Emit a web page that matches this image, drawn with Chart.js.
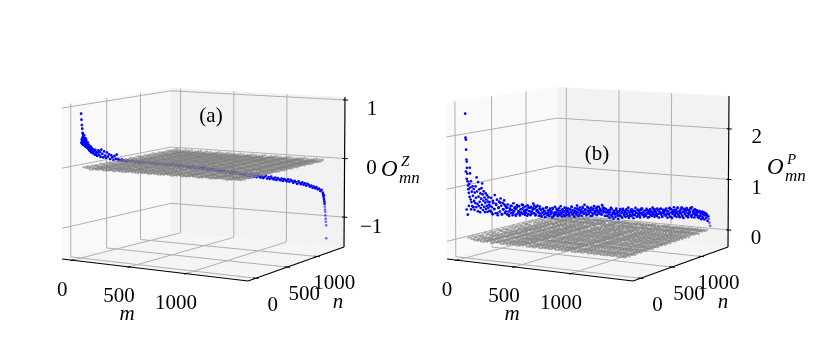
<!DOCTYPE html>
<html>
<head>
<meta charset="utf-8">
<script src="https://cdn.jsdelivr.net/npm/chart.js@4/dist/chart.umd.min.js"></script>
<style>
  html, body { margin: 0; padding: 0; background: #fff; }
  #wrap { position: relative; width: 830px; height: 363px; overflow: hidden; }
  canvas { position: absolute; top: 0; }
  #chart-a { left: 0; }
  #chart-b { left: 430px; }
</style>
</head>
<body>
<div id="wrap">
  <canvas id="chart-a" width="430" height="363"></canvas>
  <canvas id="chart-b" width="400" height="363"></canvas>
</div>
<script>
const mTicks = [0, 500, 1000]
const nTicks = [0, 500, 1000]
const zTicksA = [-1, 0, 1]
const zTicksB = [0, 1, 2]

// overlap matrix sampled on a coarse grid, the sheet sits close to zero
const sheetM = [15, 44, 72, 101, 129, 158, 187, 215, 244, 272, 301, 330, 358, 387, 415, 444, 473, 501, 530, 558, 587, 616, 644, 673, 701, 730, 759, 787, 816, 844, 873, 902, 930, 959, 987, 1016, 1045, 1073, 1102, 1130, 1159, 1188, 1216, 1245, 1273, 1302, 1331, 1359, 1388]
const sheetN = sheetM
const sheetRowA = [-.01, -.02, -.04, -.02, -.03, -.02, -.04, -.03, -.02, -.04, -.02, -.03, -.04, -.03, -.02, -.03, -.04, -.02, -.03, -.03, -.04, -.02, -.03, -.04, -.03, -.02, -.03, -.04, -.03, -.02, -.04, -.03, -.03, -.02, -.03, -.04, -.03, -.02, -.03, -.04, -.03, -.03, -.02, -.03, -.04, -.03, -.02, -.03, -.03]
const sheetColA = [.01, 0, .01, -.01, .01, 0, 0, -.01, .01, 0, -.01, .01, 0, 0, -.01, .01, 0, -.01, 0, .01, 0, 0, -.01, .01, 0, -.01, 0, .01, 0, -.01, 0, .01, -.01, 0, 0, .01, 0, -.01, .01, 0, 0, -.01, 0, .01, 0, 0, -.01, 0, .01]
const sheetRowB = [.02, 0, -.02, -.01, -.03, -.02, 0, -.03, -.02, -.01, -.03, -.02, -.03, -.01, -.02, -.03, -.02, 0, -.03, -.02, -.03, -.01, -.03, -.02, -.02, -.03, -.01, -.03, -.02, -.03, -.02, -.01, -.03, -.03, -.02, -.03, -.01, -.03, -.02, -.03, -.02, -.03, -.03, -.02, -.03, -.02, -.03, -.03, -.03]
const sheetColB = [.03, .02, .04, .01, .03, .02, .01, .02, .04, .01, .02, .03, .01, .02, .04, .02, .01, .03, .02, .01, .03, .02, .04, .01, .02, .03, .01, .04, .02, .01, .03, .02, .04, .01, .03, .02, .04, .01, .03, .05, .02, .04, .03, .01, .05, .03, .04, .02, .03]
// holes in the sheet of panel b, as [row, column]
const sheetGapsB = [[1, 30], [2, 44], [3, 38], [4, 47], [5, 33], [6, 41], [7, 28], [8, 45], [9, 36], [10, 31], [11, 46], [12, 40], [13, 34], [14, 43], [15, 29], [16, 37], [17, 45], [18, 32], [19, 41], [20, 47], [21, 35], [22, 42], [23, 39], [24, 46], [25, 33], [26, 44], [27, 37], [28, 47], [29, 41], [30, 45], [31, 39], [32, 47], [33, 43], [34, 46], [35, 44], [36, 48], [6, 36], [12, 44], [18, 38], [24, 40], [9, 42], [15, 47], [21, 43], [27, 45]]

// diagonal elements, panel a
const headMA = [1, 3, 5, 7, 9, 11, 2, 4, 6, 8, 10, 12, 13, 14, 15, 16, 17, 18, 19, 20, 21, 22, 23, 24, 25, 26, 27, 28, 29, 30, 32, 34, 36, 38, 40, 42, 44, 46, 48, 50, 52, 54, 56, 58, 60, 63, 66, 69, 72, 75, 78, 81, 84, 87, 90, 94, 98, 102, 106, 110, 115, 120, 125, 130, 135, 140, 146, 152, 158, 164, 170, 176, 182, 188, 194, 200]
const headOA = [.89, .79, .70, .64, .57, .55, .41, .46, .39, .49, .43, .37, .52, .44, .49, .41, .53, .37, .47, .40, .35, .44, .38, .48, .36, .42, .34, .40, .45, .33, .38, .32, .41, .35, .30, .37, .28, .33, .31, .26, .34, .29, .24, .31, .27, .23, .29, .22, .26, .20, .28, .21, .24, .18, .23, .27, .19, .24, .16, .28, .21, .15, .25, .18, .14, .23, .16, .20, .12, .18, .15, .10, .17, .12, .19, .11]
const tailOA = [.10, .09, .11, .08, .09, .07, .09, .08, .06, .08, .07, .05, .07, .06, .04, .06, .05, .04, .05, .03, .04, .05, .02, .03, .04, .02, .01, .03, .02, .00, .02, .01, -.01, .01, .00, -.01, .00, -.02, .00, -.01, -.03, -.01, -.02, -.04, -.02, -.03, -.05, -.03, -.04, -.06,
  -.05, -.07, -.06, -.05, -.08, -.07, -.06, -.09, -.08, -.07, -.10, -.09, -.08, -.11, -.10, -.12, -.10, -.13, -.11, -.12, -.14, -.12, -.15, -.13, -.14, -.16, -.14, -.17, -.15, -.16, -.18, -.16, -.19, -.17, -.18, -.20, -.18, -.21, -.19, -.20, -.22, -.23,
  -.20, -.24, -.22, -.25, -.21, -.24, -.26, -.23, -.27, -.24, -.26, -.28, -.25, -.29, -.27, -.25, -.30, -.28, -.31, -.27, -.30, -.32, -.29, -.33, -.30, -.32, -.34, -.31, -.35, -.32, -.34, -.36, -.33,
  -.37, -.34, -.36, -.39, -.36, -.38, -.41, -.37, -.40, -.42, -.39, -.43, -.41, -.45, -.42, -.44, -.47, -.45, -.49, -.47, -.50, -.48, -.52, -.51, -.55, -.53, -.58]
const endMA = [1391, 1393, 1395, 1396, 1398, 1400, 1401, 1403, 1404, 1405, 1407, 1408, 1410, 1411]
const endOA = [-.61, -.65, -.63, -.69, -.73, -.77, -.82, -.87, -.91, -.97, -1.03, -1.08, -1.14, -1.36]

// diagonal elements, panel b
const headMB = [1, 2, 4, 5, 6, 8, 9, 24, 3, 10, 25, 7, 60, 90, 12, 14, 16, 18, 20, 22, 26, 28, 30, 32, 34, 36, 38, 40, 42, 44, 46, 48, 50, 52, 54, 56, 58, 62, 64, 66, 68, 70, 72, 74, 76, 78, 80, 82, 84, 86, 88, 92, 94, 96, 98, 100, 102, 104, 106, 108, 110, 112, 114, 116, 118, 120, 122, 124, 126, 128, 12, 6, 30, 18]
const headOB = [2.43, 1.97, 1.93, 1.74, 1.55, 1.51, 1.39, 1.39, 1.32, 1.28, 1.28, 1.18, 1.20, 1.08, 1.13, 1.05, .98, .91, 1.08, .83, 1.01, .78, 1.13, .73, .93, .65, 1.03, .85, .63, .98, .75, .58, .91, .71, 1.03, .81, .63, .93, .69, .55, 1.11, .83, .65, .97, .73, .53, .89, .61, .79, .99, .67, .87, .57, .75, .93, .63, .81, .53, .71, .89, .59, .77, .65, .85, .53, .73, .61, .81, .67, .55, .49, .59, .59, .66]
const tailOB = [.72, .55, .80, .62, .48, .70, .58, .85, .50, .66, .76, .46, .60, .72, .53, .78, .64, .47, .69, .57, .74, .50, .63,
  .60, .47, .66, .52, .44, .58, .63, .49, .55, .45, .68, .53, .60, .46, .57, .64, .48, .52, .62, .44, .56, .50, .65, .47, .59, .53, .45, .61, .49, .55, .63, .46, .52, .58, .44, .60, .50, .54, .66, .47, .56, .43, .59, .51, .62,
  .50, .42, .56, .46, .53, .40, .48, .55, .44, .51, .39, .57, .47, .43, .52, .49, .41, .55, .45, .50, .38, .54, .46, .42, .58, .48, .44, .52, .40, .47, .55, .43, .50, .45, .39, .53, .48, .41, .56, .46, .51, .42, .49, .54, .44, .40, .52, .47, .57, .43,
  .50, .45, .38, .54, .48, .42, .59, .46, .51, .41, .55, .44, .49, .39, .53, .47, .43, .60, .50, .45, .40, .56, .48, .42, .52, .46, .38, .54, .44, .50, .41, .57, .47, .43, .53, .39, .49, .45, .55, .42, .51, .46, .40, .58, .48, .44, .52, .37, .50, .43,
  .45, .36, .48, .40, .33, .44, .38, .50, .35, .42, .31, .46, .39, .34, .47, .41, .37, .30, .44, .38, .49, .35, .42, .32, .46, .40, .36, .43, .33, .48, .39, .35, .45, .31, .41, .37, .47, .34, .42, .38, .30, .44, .36, .50, .40, .33, .46, .38, .43, .35,
  .31, .45, .39, .48, .36, .41, .32, .44, .37, .34, .47, .40, .30, .43, .38, .46, .35, .41, .33, .49, .37, .42, .31, .45, .39, .34, .47, .36, .43, .29, .40, .46, .35, .38, .32, .44, .41, .36,
  .42, .32, .46, .36, .28, .41, .34, .47, .30, .38, .44, .27, .35, .40, .48, .31, .37, .43, .29, .36, .46, .33, .39, .28, .42, .35, .47, .31, .38, .26, .44, .34, .40, .30, .45, .36, .27, .41, .33, .37, .43, .29, .46, .32, .39, .35, .26, .42, .30, .37,
  .40, .30, .36, .25, .38, .28, .34, .22, .37, .26, .31, .35, .21, .29, .33, .24, .30, .18, .27, .22, .14, .08]
// second pass along the band, between the points above
const fillOB = [.64, .52, .74, .58, .68, .50, .61, .70, .48, .57, .66, .53, .60, .46, .55, .63, .50, .58, .44, .61, .52, .47, .56, .64, .49, .54, .43, .59, .51, .46, .57, .62, .45, .53, .48, .60, .42, .55, .50, .46, .58, .44, .52, .49, .56, .41, .47, .54, .51, .43, .59, .46, .50, .40, .55, .48, .44, .52, .57, .42, .49, .45, .53, .39, .50, .47, .56, .43, .51, .41, .54, .46, .49, .38, .52, .44, .48, .55, .42, .47, .40, .53, .45, .50, .37, .43, .48, .52, .39, .46, .41, .50, .44, .36, .47, .42, .49, .38, .45, .40, .51, .35, .43, .47, .37, .44, .41, .33, .46, .39, .48, .36, .42, .34, .45, .38, .31, .43, .40, .47, .35, .41, .32, .44, .37, .46, .30, .39, .43, .34, .41, .36, .45, .29, .38, .42, .33, .40, .47, .31, .37, .44, .28, .39, .34, .42, .30, .36, .45, .27, .38, .41, .32, .35, .26, .37, .29, .33, .24, .31]

// tail diagonals run on an even m step
const tailMA = tailOA.map((_, i) => 206 + i * 7.83)
const tailMB = tailOB.map((_, i) => 130 + i * 3.91)
const fillMB = fillOB.map((_, i) => 132 + i * 7.8)

const FONT = '"Liberation Serif", serif'
const GRID = "#b0b0b0"

// box corners on screen, named by [m, n, O] end
const panelA = {
  id: "chart-a", xMin: 0, xMax: 430,
  m: [-90, 1545], n: [-117, 1477], z: [-1.51, 1.05], nWarp: 1.1,
  c000: [62, 259], c100: [248, 281], c110: [344, 247], c010: [171, 232],
  c001: [62, 105], c101: [248, 113], c111: [345, 97], c011: [171, 88],
  zTicks: zTicksA, mOff: [-10, 30], nOff: [17, 27], zOff: [27, 10],
  mLabel: [127, 314], nLabel: [338, 302], oLabel: [381, 170], oSup: "Z", tag: [211, 116],
  diagM: headMA.concat(tailMA, endMA), diagO: headOA.concat(tailOA, endOA),
  sheetRow: sheetRowA, sheetCol: sheetColA, gaps: [], sheetOnTop: true
}
const panelB = {
  id: "chart-b", xMin: 430, xMax: 830,
  m: [-88, 1545], n: [-117, 1477], z: [-.337, 2.65], nWarp: 1.1,
  c000: [447, 259], c100: [633, 281], c110: [728, 247], c010: [557, 230],
  c001: [446, 103], c101: [633, 113], c111: [729, 96], c011: [557, 87],
  zTicks: zTicksB, mOff: [-10, 30], nOff: [17, 27], zOff: [28, 9],
  mLabel: [512, 314], nLabel: [723, 302], oLabel: [767, 168], oSup: "P", tag: [597, 154],
  diagM: headMB.concat(tailMB, fillMB), diagO: headOB.concat(tailOB, fillOB),
  sheetRow: sheetRowB, sheetCol: sheetColB, gaps: sheetGapsB, sheetOnTop: false
}

function project(p, m, n, o) {
  const s = (m - p.m[0]) / (p.m[1] - p.m[0])
  const r = (n - p.n[0]) / (p.n[1] - p.n[0])
  const t = p.nWarp * r / (1 + (p.nWarp - 1) * r)
  const w = (o - p.z[0]) / (p.z[1] - p.z[0])
  const mix = i => {
    const low = (1 - s) * (1 - t) * p.c000[i] + s * (1 - t) * p.c100[i] + s * t * p.c110[i] + (1 - s) * t * p.c010[i]
    const high = (1 - s) * (1 - t) * p.c001[i] + s * (1 - t) * p.c101[i] + s * t * p.c111[i] + (1 - s) * t * p.c011[i]
    return (1 - w) * low + w * high
  }
  return { x: mix(0), y: mix(1) }
}

function line(points, color, width, order, extra) {
  return Object.assign({
    type: "line", data: points, borderColor: color, borderWidth: width, pointRadius: 0,
    fill: false, tension: 0, order: order, clip: false
  }, extra || {})
}

function paneDatasets(p) {
  const [m0, m1] = p.m, [n0, n1] = p.n, [z0, z1] = p.z
  const P = (m, n, o) => project(p, m, n, o)
  return [
    // left wall
    line([P(m0, n0, z1), P(m0, n1, z1)], "rgba(0,0,0,0)", 0, 100),
    line([P(m0, n0, z0), P(m0, n1, z0)], "rgba(0,0,0,0)", 0, 99, { fill: "-1", backgroundColor: "#f9f9f9" }),
    // back wall
    line([P(m0, n1, z1), P(m1, n1, z1)], "rgba(0,0,0,0)", 0, 98),
    line([P(m0, n1, z0), P(m1, n1, z0)], "rgba(0,0,0,0)", 0, 97, { fill: "-1", backgroundColor: "#f2f2f2" }),
    // floor
    line([P(m0, n0, z0), P(m0, n1, z0), P(m1, n1, z0)], "rgba(0,0,0,0)", 0, 96),
    line([P(m0, n0, z0), P(m1, n0, z0), P(m1, n1, z0)], "rgba(0,0,0,0)", 0, 95, { fill: "-1", backgroundColor: "#f5f5f5" })
  ]
}

function gridDatasets(p) {
  const [m0, m1] = p.m, [n0, n1] = p.n, [z0, z1] = p.z
  const P = (m, n, o) => project(p, m, n, o)
  const out = []
  mTicks.forEach(m => out.push(line([P(m, n0, z0), P(m, n1, z0), P(m, n1, z1)], GRID, 1, 50)))
  nTicks.forEach(n => out.push(line([P(m1, n, z0), P(m0, n, z0), P(m0, n, z1)], GRID, 1, 50)))
  p.zTicks.forEach(z => out.push(line([P(m0, n0, z), P(m0, n1, z), P(m1, n1, z)], GRID, 1, 50)))
  return out
}

function axisDatasets(p) {
  const [m0, m1] = p.m, [n0, n1] = p.n, [z0, z1] = p.z
  const P = (m, n, o) => project(p, m, n, o)
  const out = [
    line([P(m0, n0, z0), P(m1, n0, z0)], "#000", 1.2, 40),
    line([P(m1, n0, z0), P(m1, n1, z0)], "#000", 1.2, 40),
    line([P(m1, n1, z0), P(m1, n1, z1)], "#000", 1.2, 40)
  ]
  mTicks.forEach(m => out.push(line([P(m, n0 - 25, z0), P(m, n0 + 25, z0)], "#000", 1, 40)))
  nTicks.forEach(n => out.push(line([P(m1 - 25, n, z0), P(m1 + 25, n, z0)], "#000", 1, 40)))
  p.zTicks.forEach(z => out.push(line([P(m1 - 20, n1, z), P(m1 + 30, n1, z)], "#000", 1, 40)))
  return out
}

function sheetPoints(p) {
  const pts = []
  const gaps = new Set(p.gaps.map(g => g[0] + "," + g[1]))
  sheetM.forEach((m, i) => sheetN.forEach((n, j) => {
    if (gaps.has(i + "," + j)) return
    pts.push(project(p, m, n, p.sheetRow[i] + p.sheetCol[j]))
  }))
  return pts
}

function diagPoints(p) {
  return p.diagM.map((m, i) => {
    const pt = project(p, m, m, p.diagO[i])
    pt.m = m
    return pt
  })
}

const labelsPlugin = {
  id: "boxLabels",
  afterDraw(chart, args, opts) {
    const p = opts.panel
    const ctx = chart.ctx
    const sx = v => chart.scales.x.getPixelForValue(v)
    const sy = v => chart.scales.y.getPixelForValue(v)
    const text = (s, x, y, font, align) => {
      ctx.font = font
      ctx.textAlign = align || "center"
      ctx.textBaseline = "middle"
      ctx.fillStyle = "#000"
      ctx.fillText(s, sx(x), sy(y))
    }
    const big = "21px " + FONT
    const ital = "italic 21px " + FONT
    ctx.save()
    mTicks.forEach(m => {
      const a = project(p, m, p.n[0], p.z[0])
      text(String(m), a.x + p.mOff[0], a.y + p.mOff[1], big)
    })
    nTicks.forEach(n => {
      const a = project(p, p.m[1], n, p.z[0])
      text(String(n), a.x + p.nOff[0], a.y + p.nOff[1], big)
    })
    p.zTicks.forEach(z => {
      const a = project(p, p.m[1], p.n[1], z)
      text(String(z).replace("-", "\u2212"), a.x + p.zOff[0], a.y + p.zOff[1], big)
    })
    text("m", p.mLabel[0], p.mLabel[1], ital)
    text("n", p.nLabel[0], p.nLabel[1], ital)
    const [ox, oy] = p.oLabel
    text("O", ox, oy, "italic 23px " + FONT, "left")
    text(p.oSup, ox + 20, oy - 8, "italic 15px " + FONT, "left")
    text("mn", ox + 18, oy + 9, "italic 17px " + FONT, "left")
    text(p.id === "chart-a" ? "(a)" : "(b)", p.tag[0], p.tag[1], big)
    ctx.restore()
  }
}

function drawPanel(p) {
  const sheet = {
    type: "scatter", data: sheetPoints(p), pointRadius: 1.25, borderWidth: 0, pointBorderWidth: 0,
    pointBackgroundColor: "rgba(128,128,128,0.6)", order: p.sheetOnTop ? 10 : 20, clip: false
  }
  const diag = {
    type: "scatter", data: diagPoints(p), pointRadius: 1.35, pointBorderWidth: 0,
    pointBackgroundColor: ctx => {
      const m = ctx.raw ? ctx.raw.m : 0
      return "rgba(0,0,255," + (m > 1400 ? 0.55 : 1) + ")"
    },
    order: p.sheetOnTop ? 20 : 10, clip: false
  }
  new Chart(document.getElementById(p.id), {
    type: "scatter",
    data: { datasets: [...paneDatasets(p), ...gridDatasets(p), ...axisDatasets(p), sheet, diag] },
    options: {
      responsive: false, animation: false, events: [],
      layout: { padding: 0, autoPadding: false },
      plugins: { legend: { display: false }, tooltip: { enabled: false }, boxLabels: { panel: p } },
      scales: {
        x: { type: "linear", display: false, min: p.xMin, max: p.xMax },
        y: { type: "linear", display: false, min: 0, max: 363, reverse: true }
      }
    },
    plugins: [labelsPlugin]
  })
}

drawPanel(panelA)
drawPanel(panelB)
</script>
</body>
</html>
